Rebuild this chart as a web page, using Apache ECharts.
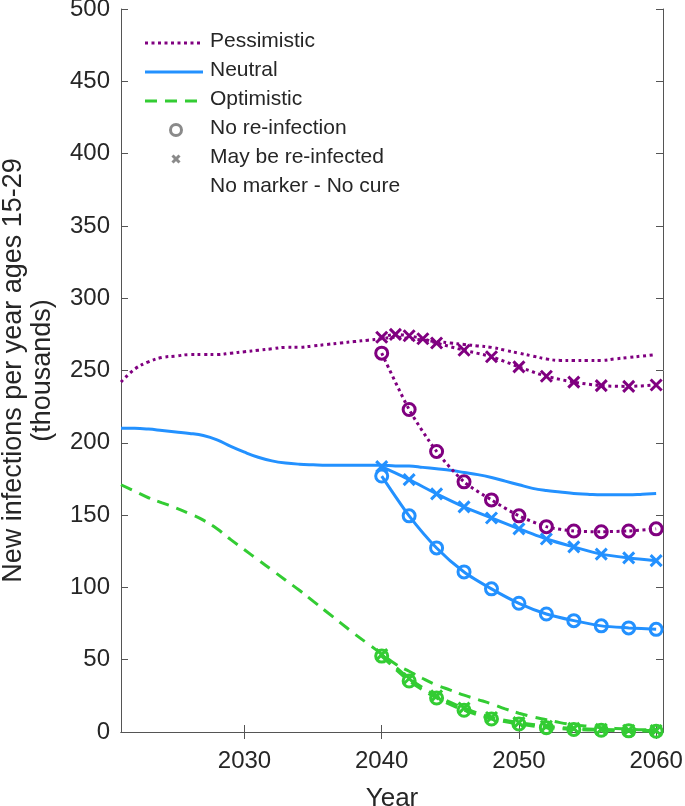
<!DOCTYPE html>
<html>
<head>
<meta charset="utf-8">
<script src="https://cdn.jsdelivr.net/npm/echarts@6/dist/echarts.min.js"></script>
<style>html,body{margin:0;padding:0;background:#fff}#c{width:685px;height:806px}</style>
</head>
<body>
<div id="c"></div>
<script>
// ---- data ----
const yearsAnnual = [2021,2022,2023,2024,2025,2026,2027,2028,2029,2030,2031,2032,2033,2034,2035,2036,2037,2038,2039,2040,2041,2042,2043,2044,2045,2046,2047,2048,2049,2050,2051,2052,2053,2054,2055,2056,2057,2058,2059,2060];
const pessNoCure = [242,251,256,259,260,261,261,261,262,263,264,265,266,266,267,268,269,270,271,272,273,272,271,270,269,268,267,266,264,262,260,258,257,257,257,257,258,259,260,261];
const neutNoCure = [210,210,209.5,208.5,207.5,206.5,205,202,197.5,193.5,190,187.5,186,185.2,184.8,184.5,184.5,184.5,184.5,184.5,184,184,183,182,181,179.5,178,176,173.5,171,168.5,167,166,165,164.5,164,164,164,164.5,165];
const optNoCure  = [171,166.5,162,158.5,155,151,146.5,140.5,133,126,119,112,105,98,90.5,83,75.5,68,61,54,47,42,37,32.5,29,25.5,22.5,19.5,16,13,10.5,8.5,6.5,5,4,3,2.5,2,1.5,1.5];

const yearsCure = [2040,2042,2044,2046,2048,2050,2052,2054,2056,2058,2060];
const yearsPessReinf = [2040,2041,2042,2043,2044,2046,2048,2050,2052,2054,2056,2058,2060];
const pessReinf   = [273,275,274,272,269,264,259.5,252.5,246,242,239.5,239,240];
const pessNoReinf = [262,223,194,173,160.5,149.5,142,139,138.5,139,140.5];
const neutReinf   = [183.5,174.5,164.7,155.7,148,140.5,133.5,128,123,120.4,118.5];
const neutNoReinf = [177,149.5,127.3,110.7,99,89,81.6,77,73.4,72,71];
const optReinf    = [53.5,37,25,16.5,10,6.5,4,2.5,1.8,1.2,1];
const optNoReinf  = [52.5,35.3,23.5,15,9,5.5,3,1.8,1.2,0.8,0.5];

const xTicks = [2030,2040,2050,2060];
const legendLabels = ['Pessimistic','Neutral','Optimistic','No re-infection','May be re-infected','No marker - No cure'];

// ---- styles ----
const PURPLE = '#800080', BLUE = '#2391ff', GREEN = '#33cc33', GREY = '#8a8a8a';
const CROSS = 'path://M0,0L10,10M10,0L0,10';
const dotted = [3,3.5], dashed = [12,8];
const zip = (xs, ys) => xs.map((x,i)=>[x, ys[i]]);

function lineSeries(name, xs, ys, color, type, marker, z) {
  return {
    name, type: 'line', data: zip(xs, ys), z: z,
    smooth: marker ? 0.25 : 0.4,
    lineStyle: { color, width: 3, type, cap: 'butt' },
    showSymbol: !!marker, symbol: marker ? (marker === 'o' ? 'circle' : CROSS) : 'none',
    symbolSize: marker === 'o' ? 12 : 11,
    itemStyle: { color: marker === 'o' ? 'rgba(0,0,0,0)' : color, borderColor: color, borderWidth: 3 },
    emphasis: { disabled: true }, animation: false
  };
}

const series = [
  lineSeries('optNoCure', yearsAnnual, optNoCure, GREEN, dashed, null, 2),
  lineSeries('optReinf', yearsCure, optReinf, GREEN, dashed, 'x', 3),
  lineSeries('optNoReinf', yearsCure, optNoReinf, GREEN, dashed, 'o', 3),
  lineSeries('neutNoCure', yearsAnnual, neutNoCure, BLUE, 'solid', null, 2),
  lineSeries('neutReinf', yearsCure, neutReinf, BLUE, 'solid', 'x', 3),
  lineSeries('neutNoReinf', yearsCure, neutNoReinf, BLUE, 'solid', 'o', 3),
  lineSeries('pessNoCure', yearsAnnual, pessNoCure, PURPLE, dotted, null, 4),
  lineSeries('pessReinf', yearsPessReinf, pessReinf, PURPLE, dotted, 'x', 5),
  lineSeries('pessNoReinf', yearsCure, pessNoReinf, PURPLE, dotted, 'o', 5)
];

// ---- legend (graphic) ----
const LX0 = 145, LX1 = 203, LTX = 210, LY0 = 43, LDY = 29;
const legendStyles = [
  { color: PURPLE, type: dotted },
  { color: BLUE, type: 'solid' },
  { color: GREEN, type: dashed }
];
const graphics = [];
legendLabels.forEach((t, i) => {
  const y = LY0 + i * LDY;
  graphics.push({ type: 'text', left: LTX, top: y - 12, z: 100,
    style: { text: t, font: '21px "Liberation Sans", Arial, sans-serif', fill: '#262626' } });
  if (i < 3) {
    graphics.push({ type: 'line', z: 100, shape: { x1: LX0, y1: y, x2: LX1, y2: y },
      style: { stroke: legendStyles[i].color, lineWidth: 3, lineDash: legendStyles[i].type === 'solid' ? null : legendStyles[i].type } });
  }
});
graphics.push({ type: 'circle', z: 100, shape: { cx: 176, cy: LY0 + 3*LDY, r: 5.5 }, style: { fill: 'none', stroke: GREY, lineWidth: 3 } });
graphics.push({ type: 'polyline', z: 100, shape: { points: [[172.5, LY0+4*LDY-3.5],[179.5, LY0+4*LDY+3.5]] }, style: { stroke: GREY, lineWidth: 3 } });
graphics.push({ type: 'polyline', z: 100, shape: { points: [[179.5, LY0+4*LDY-3.5],[172.5, LY0+4*LDY+3.5]] }, style: { stroke: GREY, lineWidth: 3 } });

const AX = '#555', TXT = '#262626', FONT = '"Liberation Sans", Arial, sans-serif';

const option = {
  backgroundColor: '#fff',
  animation: false,
  grid: { left: 121, right: 22, top: 9, bottom: 74, containLabel: false, outerBoundsMode: 'none' },
  xAxis: [{
    type: 'value', min: 2021, max: 2060.5,
    name: 'Year', nameLocation: 'middle', nameGap: 54,
    nameTextStyle: { fontSize: 26, color: TXT, fontFamily: FONT },
    axisLine: { show: true, lineStyle: { color: AX, width: 1 } },
    axisTick: { show: true, inside: true, length: 7, lineStyle: { color: AX }, customValues: xTicks },
    axisLabel: { fontSize: 24, color: TXT, fontFamily: FONT, margin: 17, customValues: xTicks, formatter: v => String(v) },
    splitLine: { show: false }
  }, {
    type: 'value', min: 2021, max: 2060.5, position: 'top',
    axisLine: { show: true, lineStyle: { color: AX, width: 1 } },
    axisTick: { show: true, inside: true, length: 7, lineStyle: { color: AX }, customValues: xTicks },
    axisLabel: { show: false }, splitLine: { show: false }
  }],
  yAxis: [{
    type: 'value', min: 0, max: 500, interval: 50,
    name: 'New infections per year ages 15-29\n(thousands)', nameLocation: 'middle', nameGap: 64,
    nameTextStyle: { fontSize: 27, color: TXT, fontFamily: FONT, lineHeight: 29 },
    axisLine: { show: true, lineStyle: { color: AX, width: 1 } },
    axisTick: { show: true, inside: true, length: 7, lineStyle: { color: AX } },
    axisLabel: { fontSize: 24, color: TXT, fontFamily: FONT, margin: 11, padding: [8, 0, 0, 0] },
    splitLine: { show: false }
  }, {
    type: 'value', min: 0, max: 500, interval: 50, position: 'right',
    axisLine: { show: true, lineStyle: { color: AX, width: 1 } },
    axisTick: { show: true, inside: true, length: 7, lineStyle: { color: AX } },
    axisLabel: { show: false }, splitLine: { show: false }
  }],
  series,
  graphic: graphics
};

const chart = echarts.init(document.getElementById('c'), null, { renderer: 'canvas' });
chart.setOption(option);
</script>
</body>
</html>
